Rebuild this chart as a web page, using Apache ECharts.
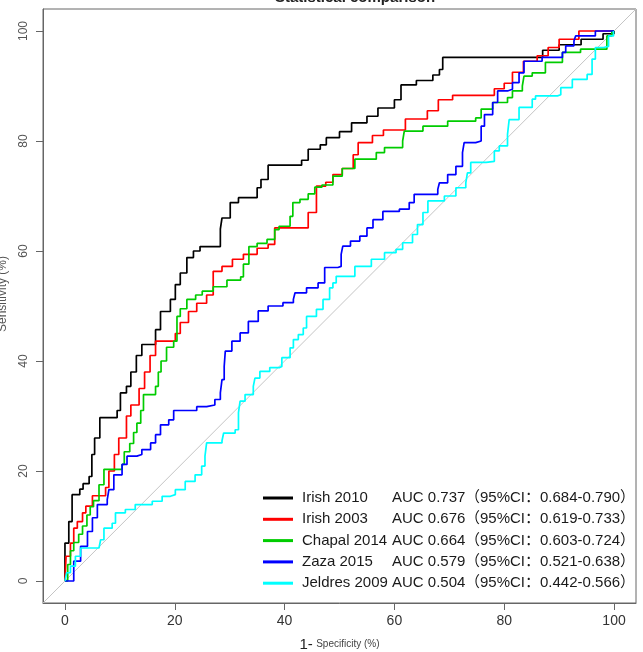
<!DOCTYPE html>
<html>
<head>
<meta charset="utf-8">
<script src="https://cdn.jsdelivr.net/npm/echarts@6/dist/echarts.min.js"></script>
<style>
html, body { margin: 0; padding: 0; background: #fff; }
#container { width: 643px; height: 652px; }
</style>
</head>
<body>
<div id="container"></div>
<script>
var dom = document.getElementById('container');
var myChart = echarts.init(dom);

// legend / series info
var names = ['Irish 2010', 'Irish 2003', 'Chapal 2014', 'Zaza 2015', 'Jeldres 2009'];
var aucValues = ['0.737', '0.676', '0.664', '0.579', '0.504'];
var ciLow = ['0.684', '0.619', '0.603', '0.521', '0.442'];
var ciHigh = ['0.790', '0.733', '0.724', '0.638', '0.566'];
var colors = ['#000000', '#ff0000', '#00cc00', '#0000ff', '#00ffff'];

var xTicks = [0, 20, 40, 60, 80, 100];
var yTicks = [0, 20, 40, 60, 80, 100];

// ROC steps: [1 - specificity, sensitivity] (%)
var irish2010 = [[0,0],[0,6.9],[0.7,10.8],[1.3,15.7],[2.7,16.7],[3.3,17.7],[4.4,19],[4.9,23],[5.4,26],[6.35,29.7],
  [9.5,31],[10.1,34.2],[11.2,35.4],[12,38],[13,41],[14,43],[16.5,45.7],[17.4,49],[19.2,51.2],[20.1,53.9],
  [21,56],[22.2,58.8],[23.4,60],[24.6,60.8],[28.3,64],[28.6,66],[30.1,68.8],[31.6,69.7],[35,71.5],[35.7,73],
  [37,75.6],[43.1,76.5],[44.3,78.5],[46.5,79.3],[47.6,80.6],[50,81.7],[52.2,83.3],[55,84.5],[57,86],[60,87.5],
  [61.2,90.2],[64,91],[67,92],[68.2,93],[68.8,95.2],[87,96.5],[90,97.5],[94,98.5],[98,99.5],[100,100]];

var irish2003 = [[0,0],[0.2,4.5],[1,6.9],[1.6,9.6],[2.25,10.8],[3.2,12.4],[3.8,13.6],[5,15.5],[7.4,17],[8,20],
  [9,23],[9.8,26],[11.2,30],[12,32],[13.5,35],[14.5,38],[15.5,41],[16.5,43.6],[20.1,45],[21,47],[22.5,49],
  [24,50.5],[25.8,52],[27,56.3],[28.6,57.2],[30.5,58.5],[32.5,59.4],[35,60.5],[37,61.2],[38.2,64.2],[44.3,67],
  [45.8,71.8],[47.5,72.5],[48.8,73.9],[50.5,75],[52.5,77.5],[53.4,79.7],[56,81],[58,82],[62,84],[66,85.5],
  [68,87.5],[70.6,88.3],[78.2,89.5],[80,90.5],[81.5,92.5],[83.5,94.5],[86,95.5],[88,97],[90,98.5],[93.6,100],[100,100]];

var chapal2014 = [[0,0],[0.5,3],[1,5.5],[1.6,7],[2.5,8.5],[3.2,10],[4,12],[4.6,13.5],[5.2,14.6],[6.2,17.5],
  [7.1,20.3],[10.4,21.2],[10.8,23.5],[11.8,25],[12.5,27],[13.1,28.7],[13.8,31],[14.3,33.9],[16.5,35.4],[17,38],
  [17.5,40],[18.5,42.5],[19.8,43.6],[20.4,48.1],[21,49.5],[22.2,51.2],[23.8,52],[25,52.7],[27,53.5],[29.5,54.7],
  [32,55.3],[32.5,57.6],[33.5,60.8],[35,61.4],[36.8,62.1],[38.2,63.9],[39,64.5],[41,66.3],[41.5,68.8],[42.8,69.4],
  [44.3,70.4],[45.5,71.6],[46.8,72],[48.8,73.6],[50.5,75],[52.8,76.7],[56.7,77.9],[58.2,78.8],[61.5,80],[61.8,81.8],
  [65.2,82.7],[69.7,83.6],[74.8,84.2],[75.8,85.8],[77.9,87],[80.6,87.9],[81.5,89.1],[83.3,90],[83.6,91.8],[85.1,92.4],
  [87.5,94.3],[90.6,96.1],[93.9,96.7],[98.7,99.1],[99.6,100],[100,100]];

var zaza2015 = [[0,0],[1,0],[1.6,3.6],[2.85,6.3],[4.1,9],[5,11.5],[5.9,13.9],[7.7,14.8],[8,16.6],[8.9,19.3],
  [10.4,21.2],[11.3,22.7],[13.1,23],[14,23.9],[15.6,25.1],[16.5,26.6],[17.4,28.4],[18.9,29.3],[19.8,31],[24,31.7],
  [25.8,32],[27.3,33],[28.3,34.2],[28.6,36.6],[29,39],[29.2,41.8],[30.4,43.6],[31.9,45.1],[33.4,47.2],[35.2,49.1],
  [37,50],[39.7,50.6],[41.6,51.2],[41.9,52.4],[44,53.3],[46.1,54.2],[47.3,57],[49.7,57.2],[50.3,59.4],[50.6,60.9],
  [52,61.8],[53.7,62.7],[55,64.2],[56.1,65.7],[57.9,67.2],[60.9,67.6],[62.7,68.8],[63.6,70.3],[67.9,71.2],[68.2,72.4],
  [69.7,73.9],[71.2,75.4],[72.4,77.9],[72.7,79.7],[74.8,80],[75.8,82.7],[76.4,84.8],[77.9,87],[78.8,89.1],[80.6,89.4],
  [81.5,90.6],[82.7,92.4],[83.6,94.5],[86.9,95.2],[90.6,96.1],[91.2,97.3],[92.7,98.2],[93,99.1],[96.6,100],[100,100]];

var jeldres2009 = [[0,0],[0.3,1.5],[1,2.7],[1.9,4.5],[2.85,6],[6.2,6.3],[6.5,7.5],[7.1,9.6],[8.6,10.5],[9.2,12.4],
  [11,13],[12.8,13.9],[15.9,14.5],[17.7,15.4],[19.2,15.7],[20.1,16.6],[21.9,18.1],[23.7,19.3],[24.9,20.9],[25.5,22.7],
  [25.8,25.1],[28.6,25.5],[28.9,26.9],[31,27.5],[31.6,30.6],[31.9,32.7],[32.8,33.9],[34.3,35.4],[34.6,36.9],[35.5,38.1],
  [37.3,38.8],[39.1,39],[39.5,40.6],[41,42.4],[41.6,43.9],[42.5,44.8],[43.4,46],[44,48.1],[45.8,49.4],[47,51.2],
  [48.2,53.3],[48.8,54.2],[49.4,55.4],[52.8,57.2],[55.8,58.5],[58.2,59.7],[60.3,60.3],[61.5,61.5],[63.3,63],[64.2,64.8],
  [65.2,67],[66.1,69.1],[69.1,70],[71.2,71.5],[73,72.4],[73.3,74.2],[73.9,76.1],[76.7,76.3],[78.2,78.2],[79.1,79.1],
  [80.6,81.2],[80.9,83.9],[82.7,86.1],[85.1,87.6],[85.7,88.2],[89.7,88.4],[90.3,89.7],[92.4,91.2],[95.1,92.1],[96,94.9],
  [96.6,97],[98.1,97.2],[99,99.1],[99.9,100],[100,100]];

var curves = [irish2010, irish2003, chapal2014, zaza2015, jeldres2009];
var diagonal = [[-4,-4],[104,104]];

var font = 'Liberation Sans, Arial, Noto Sans CJK SC, sans-serif';

var series = [{
    name: 'ref',
    type: 'line',
    data: diagonal,
    showSymbol: false,
    silent: true,
    lineStyle: { color: '#c4c4c4', width: 1 },
    z: 1
}];
for (var i = 0; i < names.length; i++) {
    series.push({
        name: names[i],
        type: 'line',
        step: 'end',
        data: curves[i],
        showSymbol: false,
        itemStyle: { color: colors[i] },
        lineStyle: { color: colors[i], width: 1.7 },
        z: 2
    });
}

option = {
    animation: false,
    color: colors,
    title: {
        text: 'Statistical comparison',
        left: 270,
        top: -15,
        textStyle: { fontFamily: font, fontSize: 15, fontWeight: 'bold', color: '#222' }
    },
    grid: {
        left: 43, right: 7, top: 9, bottom: 49,
        outerBoundsMode: 'none',
        containLabel: false,
        show: true,
        borderColor: '#666',
        borderWidth: 1
    },
    legend: {
        data: names,
        orient: 'vertical',
        left: 263,
        top: 490.5,
        padding: 0,
        itemGap: 6.3,
        itemWidth: 30,
        itemHeight: 3,
        icon: 'rect',
        textStyle: {
            fontFamily: font,
            fontSize: 15,
            color: '#1a1a1a',
            padding: [0, 0, 0, 4],
            rich: {
                n: { width: 90, fontFamily: font, fontSize: 15, lineHeight: 17, color: '#1a1a1a' },
                a: { width: 73, fontFamily: font, fontSize: 15, lineHeight: 17, color: '#1a1a1a' },
                c: { fontFamily: font, fontSize: 15, lineHeight: 17, color: '#1a1a1a' }
            }
        },
        formatter: function (name) {
            var k = names.indexOf(name);
            return '{n|' + name + '}{a|AUC ' + aucValues[k] + '}{c|（95%CI：' + ciLow[k] + '-' + ciHigh[k] + '）}';
        }
    },
    xAxis: {
        type: 'value',
        min: -4,
        max: 104,
        splitLine: { show: false },
        axisLine: { show: true, onZero: false, lineStyle: { color: '#666' } },
        axisTick: { show: true, length: 7, customValues: xTicks, lineStyle: { color: '#666' } },
        axisLabel: { customValues: xTicks, margin: 11, fontFamily: font, fontSize: 14, color: '#333' },
        name: '{b|1-} {s|Specificity (%)}',
        nameLocation: 'middle',
        nameGap: 34,
        nameMoveOverlap: false,
        nameTextStyle: {
            rich: {
                b: { fontFamily: font, fontSize: 15, color: '#222' },
                s: { fontFamily: font, fontSize: 10, color: '#444' }
            }
        }
    },
    yAxis: {
        type: 'value',
        min: -4,
        max: 104,
        splitLine: { show: false },
        axisLine: { show: true, onZero: false, lineStyle: { color: '#666' } },
        axisTick: { show: true, length: 7, customValues: yTicks, lineStyle: { color: '#666' } },
        axisLabel: { customValues: yTicks, rotate: 90, margin: 13, fontFamily: font, fontSize: 12, color: '#555' },
        name: 'Sensitivity (%)',
        nameLocation: 'middle',
        nameRotate: 90,
        nameGap: 34,
        nameMoveOverlap: false,
        nameTextStyle: { fontFamily: font, fontSize: 12, color: '#555', padding: [0, 0, 0, 24] }
    },
    series: series
};

if (option && typeof option === 'object') {
    myChart.setOption(option, true);
}
</script>
</body>
</html>
